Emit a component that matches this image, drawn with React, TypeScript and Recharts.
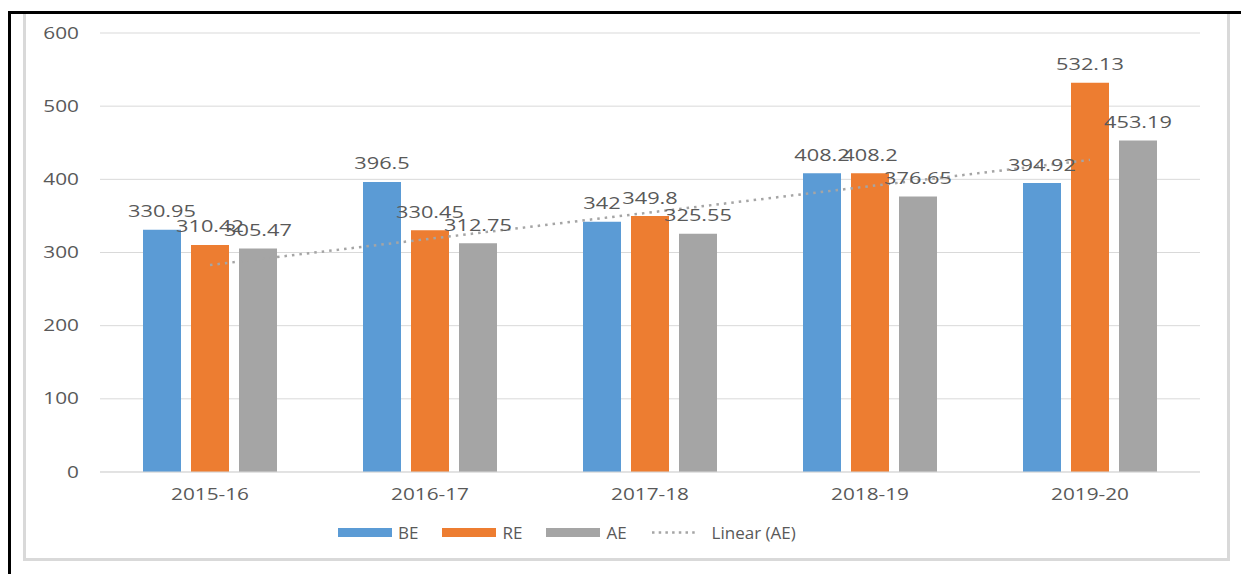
import React from "react";
import { ComposedChart, Bar, Line, XAxis, YAxis, CartesianGrid, Legend, LabelList } from "recharts";

const categories = ["2015-16", "2016-17", "2017-18", "2018-19", "2019-20"];
const beValues = [330.95, 396.5, 342, 408.2, 394.92];
const reValues = [310.42, 330.45, 349.8, 408.2, 532.13];
const aeValues = [305.47, 312.75, 325.55, 376.65, 453.19];
// Linear (AE) trendline end points
const trendValues: (number | null)[] = [282.85, null, null, null, 426.59];
const yTicks = [0, 100, 200, 300, 400, 500, 600];

const seriesKeys = ["be", "re", "ae", "trend"];
const seriesNames: Record<string, string> = { be: "BE", re: "RE", ae: "AE", trend: "Linear (AE)" };
const COLORS: Record<string, string> = { be: "#5b9bd5", re: "#ed7d31", ae: "#a5a5a5", trend: "#a5a5a5" };
const TEXT = "#595959";
const GRID = "#d9d9d9";
const FONT = "'Open Sans', sans-serif";

const data = categories.map((c, i) => ({
  cat: c,
  be: beValues[i],
  re: reValues[i],
  ae: aeValues[i],
  trend: trendValues[i],
}));

const DataLabel = (props: any) => {
  const vb = props.viewBox && props.viewBox.width !== undefined ? props.viewBox : props;
  const x = Number(vb.x);
  const y = Number(vb.y);
  const w = Number(vb.width);
  const cx = x + w / 2;
  return (
    <text
      x={0}
      y={0}
      transform={`translate(${cx},${y - 12.5}) scale(1.28,1)`}
      textAnchor="middle"
      fontSize={17}
      fontFamily={FONT}
      fill={TEXT}
    >
      {props.value}
    </text>
  );
};

const XTick = (props: any) => {
  const { x, y, payload } = props;
  return (
    <text
      x={0}
      y={0}
      transform={`translate(${x},${y + 28}) scale(1.26,1)`}
      textAnchor="middle"
      fontSize={16.5}
      fontFamily={FONT}
      fill={TEXT}
    >
      {payload.value}
    </text>
  );
};

const YTick = (props: any) => {
  const { x, y, payload } = props;
  return (
    <text
      x={0}
      y={0}
      transform={`translate(${x},${y + 5.5}) scale(1.26,1)`}
      textAnchor="end"
      fontSize={16.5}
      fontFamily={FONT}
      fill={TEXT}
    >
      {payload.value}
    </text>
  );
};

const LegendContent = () => {
  return (
    <div
      style={{
        display: "flex",
        alignItems: "center",
        height: 36,
        paddingLeft: 338,
        fontFamily: FONT,
        fontSize: 17,
        color: TEXT,
        whiteSpace: "nowrap",
      }}
    >
      {seriesKeys.map((key) => {
        const isTrend = key === "trend";
        return (
          <div key={key} style={{ display: "flex", alignItems: "center", marginRight: 24 }}>
            {isTrend ? (
              <svg width={47} height={9} style={{ marginRight: 14 }}>
                <line
                  x1={1}
                  y1={4.5}
                  x2={47}
                  y2={4.5}
                  stroke={COLORS.trend}
                  strokeWidth={2.5}
                  strokeDasharray="2.5 4.2"
                />
              </svg>
            ) : (
              <div style={{ width: 54, height: 9, background: COLORS[key], marginRight: 6 }} />
            )}
            <span>{seriesNames[key]}</span>
          </div>
        );
      })}
    </div>
  );
};

export default function App() {
  return (
    <div
      style={{
        position: "absolute",
        left: 0,
        top: 0,
        width: 1241,
        height: 574,
        background: "#fff",
        overflow: "hidden",
      }}
    >
      <div
        style={{
          position: "absolute",
          left: 23,
          top: 11,
          width: 1207,
          height: 550,
          border: `3px solid ${GRID}`,
          boxSizing: "border-box",
        }}
      />
      <div style={{ position: "absolute", left: 8, top: 11, width: 3, height: 563, background: "#000" }} />
      <div style={{ position: "absolute", left: 8, top: 11, width: 1233, height: 3, background: "#000" }} />
      <div style={{ position: "absolute", left: 0, top: 0 }}>
        <ComposedChart
          width={1241}
          height={574}
          data={data}
          margin={{ top: 33, right: 41, bottom: 72, left: 0 }}
          barGap={10}
        >
          <CartesianGrid vertical={false} stroke={GRID} strokeWidth={1} />
          <XAxis
            dataKey="cat"
            height={30}
            axisLine={{ stroke: GRID, strokeWidth: 1 }}
            tickLine={false}
            tickSize={0}
            tickMargin={0}
            tick={<XTick />}
            interval={0}
          />
          <YAxis
            width={100}
            domain={[0, 600]}
            ticks={yTicks}
            axisLine={false}
            tickLine={false}
            tickSize={0}
            tickMargin={21}
            tick={<YTick />}
          />
          <Bar dataKey="be" name={seriesNames.be} fill={COLORS.be} barSize={38} isAnimationActive={false}>
            <LabelList dataKey="be" content={<DataLabel />} />
          </Bar>
          <Bar dataKey="re" name={seriesNames.re} fill={COLORS.re} barSize={38} isAnimationActive={false}>
            <LabelList dataKey="re" content={<DataLabel />} />
          </Bar>
          <Bar dataKey="ae" name={seriesNames.ae} fill={COLORS.ae} barSize={38} isAnimationActive={false}>
            <LabelList dataKey="ae" content={<DataLabel />} />
          </Bar>
          <Line
            dataKey="trend"
            name={seriesNames.trend}
            stroke={COLORS.trend}
            strokeWidth={2.5}
            strokeDasharray="2.5 5"
            dot={false}
            activeDot={false}
            connectNulls
            isAnimationActive={false}
          />
          <Legend
            layout="horizontal"
            verticalAlign="middle"
            align="center"
            content={<LegendContent />}
            wrapperStyle={{ left: 0, top: 514, width: 1241, height: 36 }}
          />
        </ComposedChart>
      </div>
    </div>
  );
}
